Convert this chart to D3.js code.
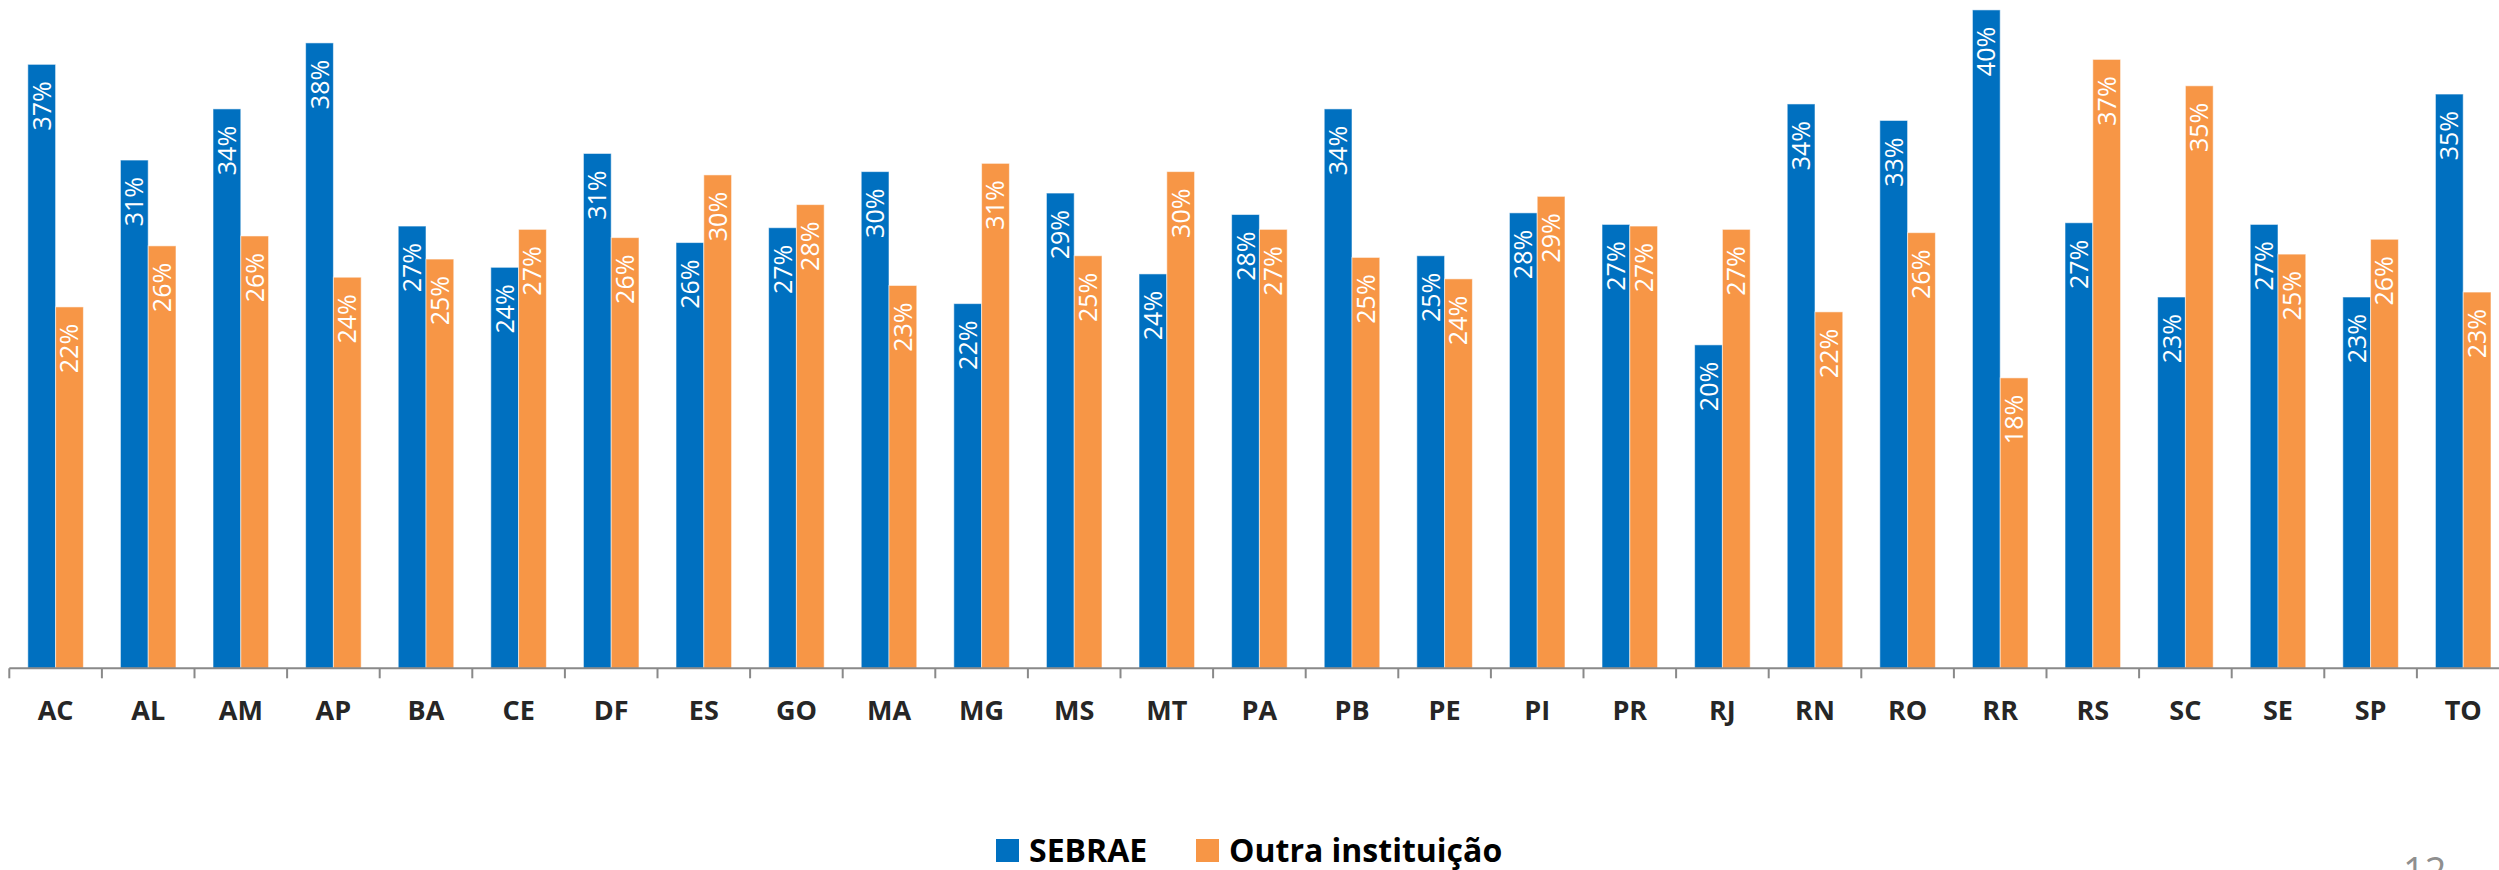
<!DOCTYPE html>
<html>
<head>
<meta charset="utf-8">
<script src="https://cdn.jsdelivr.net/npm/d3@7/dist/d3.min.js"></script>
<style>
  body { margin: 0; background: #fff; }
  svg { display: block; }
</style>
</head>
<body>
<svg id="chart"></svg>
<script>
const states = ["AC", "AL", "AM", "AP", "BA", "CE", "DF", "ES", "GO", "MA", "MG", "MS", "MT", "PA",
  "PB", "PE", "PI", "PR", "RJ", "RN", "RO", "RR", "RS", "SC", "SE", "SP", "TO"];
const sebrae = [36.6, 30.8, 33.9, 37.9, 26.8, 24.3, 31.2, 25.8, 26.7, 30.1, 22.1, 28.8, 23.9, 27.5,
  33.9, 25.0, 27.6, 26.9, 19.6, 34.2, 33.2, 39.9, 27.0, 22.5, 26.9, 22.5, 34.8];
const outra = [21.9, 25.6, 26.2, 23.7, 24.8, 26.6, 26.1, 29.9, 28.1, 23.2, 30.6, 25.0, 30.1, 26.6,
  24.9, 23.6, 28.6, 26.8, 26.6, 21.6, 26.4, 17.6, 36.9, 35.3, 25.1, 26.0, 22.8];
const seriesNames = ["SEBRAE", "Outra instituição"];
const colors = ["#0070C0", "#F79646"];

const width = 2499, height = 870;
const baseY = 668.3;

const svg = d3.select("#chart").attr("width", width).attr("height", height);

const x = d3.scaleBand()
  .domain(states)
  .range([9.3, 9.3 + 27 * 92.6])
  .paddingInner(0.4)
  .paddingOuter(0.2);

const xs = d3.scaleBand()
  .domain([0, 1])
  .range([0, x.bandwidth()]);

const y = d3.scaleLinear()
  .domain([0, 40.5])
  .range([baseY, 0]);

const rows = states.map((s, i) => ({ state: s, vals: [sebrae[i], outra[i]] }));

const groups = svg.append("g")
  .selectAll("g")
  .data(rows)
  .join("g")
  .attr("transform", d => `translate(${x(d.state)},0)`);

groups.selectAll("rect")
  .data(d => d.vals.map((v, k) => ({ v, k })))
  .join("rect")
  .attr("x", d => xs(d.k))
  .attr("y", d => y(d.v))
  .attr("width", xs.bandwidth())
  .attr("height", d => y(0) - y(d.v))
  .attr("fill", d => colors[d.k])
  .attr("stroke", "#fff")
  .attr("stroke-opacity", 0.55)
  .attr("stroke-width", 1);

groups.selectAll("text")
  .data(d => d.vals.map((v, k) => ({ v, k })))
  .join("text")
  .attr("transform", d => `translate(${xs(d.k) + xs.bandwidth() / 2 + 9},${y(d.v) + 17}) rotate(-90)`)
  .attr("text-anchor", "end")
  .attr("fill", "#fff")
  .attr("font-family", "Open Sans, sans-serif")
  .attr("font-size", 25)
  .text(d => Math.round(d.v) + "%");

// axis line and ticks between categories
const axisG = svg.append("g");
const step = x.step();
const x0 = x.range()[0];
axisG.append("line")
  .attr("x1", x0).attr("x2", x.range()[1])
  .attr("y1", baseY).attr("y2", baseY)
  .attr("stroke", "#898989").attr("stroke-width", 2);
axisG.selectAll("line.tick")
  .data(d3.range(states.length + 1))
  .join("line")
  .attr("class", "tick")
  .attr("x1", i => x0 + i * step).attr("x2", i => x0 + i * step)
  .attr("y1", baseY).attr("y2", baseY + 10)
  .attr("stroke", "#898989").attr("stroke-width", 2);
axisG.selectAll("text")
  .data(states)
  .join("text")
  .attr("x", d => x(d) + x.bandwidth() / 2)
  .attr("y", 720)
  .attr("text-anchor", "middle")
  .attr("font-family", "Open Sans, sans-serif")
  .attr("font-weight", "bold")
  .attr("font-size", 27)
  .attr("fill", "#262626")
  .text(d => d);

// legend
const legendX = [996, 1196];
const legend = svg.append("g")
  .selectAll("g")
  .data(seriesNames)
  .join("g")
  .attr("transform", (d, i) => `translate(${legendX[i]},839)`);
legend.append("rect")
  .attr("width", 23).attr("height", 23)
  .attr("fill", (d, i) => colors[i]);
legend.append("text")
  .attr("x", 33).attr("y", 23)
  .attr("font-family", "Open Sans, sans-serif")
  .attr("font-weight", "bold")
  .attr("font-size", 32)
  .attr("fill", "#000")
  .text(d => d);

// page number (partly cut by the bottom edge, as in the original slide)
svg.append("text")
  .attr("x", 2403).attr("y", 885)
  .attr("font-family", "Open Sans, sans-serif")
  .attr("font-size", 38)
  .attr("fill", "#8f8f8f")
  .text("12");
</script>
</body>
</html>
